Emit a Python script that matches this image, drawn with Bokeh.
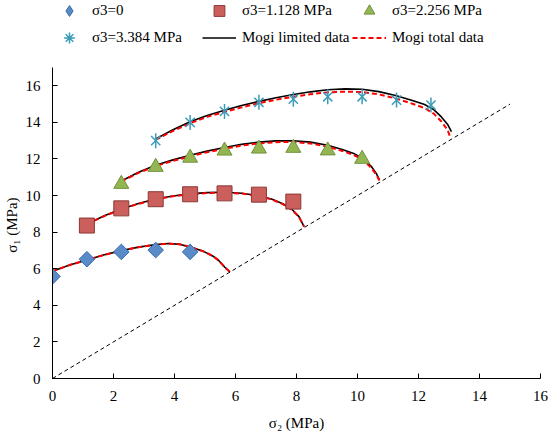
import numpy as np
from bokeh.plotting import figure
from bokeh.models import Range1d, FixedTicker, Legend, LegendItem
from bokeh.embed import file_html
from bokeh.resources import INLINE

# ---- measured points (sigma2, sigma1) in MPa ----
s2_pts_0 = [0.0, 1.128, 2.256, 3.384, 4.512]
s1_pts_0 = [5.58, 6.52, 6.92, 7.02, 6.92]
s2_pts_1 = [1.128, 2.256, 3.384, 4.512, 5.64, 6.768, 7.896]
s1_pts_1 = [8.36, 9.30, 9.80, 10.07, 10.12, 10.05, 9.67]
s2_pts_2 = [2.256, 3.384, 4.512, 5.64, 6.768, 7.896, 9.024, 10.152]
s1_pts_2 = [10.63, 11.56, 12.06, 12.45, 12.56, 12.60, 12.46, 12.00]
s2_pts_3 = [3.384, 4.512, 5.64, 6.768, 7.896, 9.024, 10.152, 11.28, 12.408]
s1_pts_3 = [13.00, 14.00, 14.60, 15.10, 15.27, 15.40, 15.40, 15.22, 14.95]

# ---- Mogi fit, limited data (black) ----
lim_x0 = [0.0, 0.56, 1.13, 1.7, 2.26, 2.82, 3.38, 3.8, 4.2, 4.6, 4.95, 5.25, 5.45, 5.65, 5.82]
lim_y0 = [5.86, 6.2, 6.48, 6.76, 6.99, 7.18, 7.32, 7.38, 7.33, 7.14, 6.95, 6.7, 6.45, 6.08, 5.82]
lim_x1 = [1.13, 1.7, 2.26, 2.82, 3.38, 3.95, 4.51, 5.07, 5.64, 6.2, 6.77, 7.2, 7.55, 7.85, 8.08, 8.25]
lim_y1 = [8.45, 8.9, 9.27, 9.57, 9.81, 9.98, 10.09, 10.16, 10.18, 10.13, 9.99, 9.8, 9.55, 9.25, 8.85, 8.3]
lim_x2 = [2.26, 2.82, 3.38, 3.95, 4.51, 5.07, 5.64, 6.2, 6.77, 7.33, 7.9, 8.46, 9.02, 9.5, 9.9, 10.2, 10.45, 10.62, 10.72]
lim_y2 = [10.8, 11.27, 11.66, 11.95, 12.2, 12.43, 12.63, 12.8, 12.92, 12.99, 13.0, 12.92, 12.75, 12.52, 12.28, 12.0, 11.6, 11.2, 10.85]
lim_x3 = [3.38, 3.95, 4.51, 5.07, 5.64, 6.2, 6.77, 7.33, 7.9, 8.46, 9.02, 9.6, 10.15, 10.7, 11.28, 11.8, 12.2, 12.5, 12.75, 12.95, 13.08]
lim_y3 = [13.09, 13.6, 14.03, 14.38, 14.66, 14.92, 15.15, 15.35, 15.52, 15.67, 15.78, 15.83, 15.81, 15.68, 15.46, 15.2, 14.98, 14.7, 14.3, 13.9, 13.5]

# ---- Mogi fit, total data (red dashed) ----
tot_x0 = [0.0, 0.56, 1.13, 1.7, 2.26, 2.82, 3.38, 3.8, 4.2, 4.6, 4.95, 5.25, 5.45, 5.65, 5.82]
tot_y0 = [5.86, 6.2, 6.48, 6.76, 6.99, 7.18, 7.32, 7.38, 7.33, 7.14, 6.95, 6.7, 6.45, 6.08, 5.82]
tot_x1 = [1.13, 1.7, 2.26, 2.82, 3.38, 3.95, 4.51, 5.07, 5.64, 6.2, 6.77, 7.2, 7.55, 7.85, 8.08, 8.25]
tot_y1 = [8.43, 8.88, 9.25, 9.55, 9.79, 9.96, 10.07, 10.14, 10.16, 10.11, 9.97, 9.78, 9.53, 9.23, 8.83, 8.3]
tot_x2 = [2.26, 2.82, 3.38, 3.95, 4.51, 5.07, 5.64, 6.2, 6.77, 7.33, 7.9, 8.46, 9.02, 9.5, 9.9, 10.2, 10.45, 10.62, 10.72]
tot_y2 = [10.78, 11.24, 11.61, 11.9, 12.14, 12.37, 12.56, 12.73, 12.85, 12.92, 12.93, 12.85, 12.67, 12.44, 12.2, 11.92, 11.52, 11.13, 10.82]
tot_x3 = [3.38, 3.95, 4.51, 5.07, 5.64, 6.2, 6.77, 7.33, 7.9, 8.46, 9.02, 9.6, 10.15, 10.7, 11.28, 11.8, 12.2, 12.5, 12.75, 12.95, 13.05]
tot_y3 = [13.05, 13.53, 13.95, 14.3, 14.57, 14.82, 15.05, 15.24, 15.4, 15.54, 15.64, 15.68, 15.66, 15.53, 15.3, 15.02, 14.78, 14.48, 14.05, 13.6, 13.15]

# ---- sigma1 = sigma2 reference line ----
equal_x = [0, 15]
equal_y = [0, 15]

x_ticks = [0, 2, 4, 6, 8, 10, 12, 14, 16]
y_ticks = [0, 2, 4, 6, 8, 10, 12, 14, 16]
x_axis_max = 16
y_axis_max = 17

FONT = "Liberation Serif"

W, H = 548, 435
LEFT, RIGHT, TOP_AXIS, BOTTOM = 52, 8, 67, 57
frame_h = H - BOTTOM            # frame runs to the top of the canvas (room for the legend)
axis_h = frame_h - TOP_AXIS     # pixel length of the drawn y axis (0..17)
y_view_max = y_axis_max * frame_h / axis_h

p = figure(width=W, height=H, output_backend="svg", toolbar_location=None,
           x_range=Range1d(0, x_axis_max), y_range=Range1d(0, y_view_max),
           min_border_left=LEFT, min_border_right=RIGHT, min_border_top=0,
           min_border_bottom=BOTTOM)
p.outline_line_color = None
p.xgrid.visible = False
p.ygrid.visible = False
p.background_fill_color = "white"

for ax in (p.xaxis, p.yaxis):
    ax.axis_line_color = "black"
    ax.axis_line_width = 1
    ax.major_tick_in = 5
    ax.major_tick_out = 0
    ax.minor_tick_line_color = None
    ax.major_label_text_font = FONT
    ax.major_label_text_font_size = "15px"
    ax.major_label_text_color = "black"
    ax.axis_label_text_font = FONT
    ax.axis_label_text_font_size = "15px"
    ax.axis_label_text_font_style = "normal"
    ax.axis_label_text_color = "black"

p.yaxis.bounds = (0, y_axis_max)
p.xaxis.ticker = FixedTicker(ticks=x_ticks)
p.yaxis.ticker = FixedTicker(ticks=y_ticks)
p.xaxis.axis_label = "σ₂ (MPa)"
# trailing no-break spaces centre the visible label on the drawn 0..17 part of the axis
p.yaxis.axis_label = "σ₁ (MPa)" + "\u00a0" * 19
p.xaxis.major_label_standoff = 12
p.xaxis.axis_label_standoff = 11
p.yaxis.major_label_standoff = 12
p.yaxis.axis_label_standoff = 3

p.line(equal_x, equal_y, line_color="black", line_width=1, line_dash="4 3")

lim_r = []
for xs, ys in [(lim_x0, lim_y0), (lim_x1, lim_y1), (lim_x2, lim_y2), (lim_x3, lim_y3)]:
    lim_r.append(p.line(xs, ys, line_color="black", line_width=1.6))
tot_r = []
for xs, ys in [(tot_x0, tot_y0), (tot_x1, tot_y1), (tot_x2, tot_y2), (tot_x3, tot_y3)]:
    tot_r.append(p.line(xs, ys, line_color="#FF0000", line_width=2, line_dash="5 3"))

# markers
r0 = p.scatter(s2_pts_0, s1_pts_0, marker="square", angle=np.pi / 4, size=11,
               fill_color="#5A8BC9", line_color="#3B6AA6", line_width=1)
r0_leg = p.scatter(s2_pts_0, s1_pts_0, marker="diamond", size=14,
                   fill_color="#5A8BC9", line_color="#3B6AA6", line_width=1, visible=False)
r1 = p.scatter(s2_pts_1, s1_pts_1, marker="square", size=15,
               fill_color="#CB5F5C", line_color="#8C3836", line_width=1)
r2 = p.scatter(s2_pts_2, s1_pts_2, marker="triangle", size=15,
               fill_color="#94B652", line_color="#71913A", line_width=1)
r3a = p.scatter(s2_pts_3, s1_pts_3, marker="x", size=13, line_color="#3B9BB8", line_width=1.5)
r3b = p.scatter(s2_pts_3, s1_pts_3, marker="dash", angle=np.pi / 2, size=15,
                line_color="#3B9BB8", line_width=1.5)
r3_leg = p.scatter(s2_pts_3, s1_pts_3, marker="asterisk", size=14, line_color="#3B9BB8",
                   line_width=1.5, visible=False)

legend = Legend(items=[
    LegendItem(label="σ3=0", renderers=[r0_leg]),
    LegendItem(label="σ3=1.128 MPa", renderers=[r1]),
    LegendItem(label="σ3=2.256 MPa", renderers=[r2]),
    LegendItem(label="σ3=3.384 MPa", renderers=[r3_leg]),
    LegendItem(label="Mogi limited data", renderers=[lim_r[0]]),
    LegendItem(label="Mogi total data", renderers=[tot_r[0]]),
], location=(0, frame_h + 3 - 54), orientation="horizontal", ncols=3)
legend.glyph_width = 34
legend.glyph_height = 27
legend.label_height = 27
legend.label_width = 110
legend.label_standoff = 6
legend.spacing = 0
legend.padding = 0
legend.margin = 0
legend.border_line_alpha = 0
legend.background_fill_alpha = 0
legend.label_text_font = FONT
legend.label_text_font_size = "15px"
legend.label_text_color = "black"
p.add_layout(legend)

open("out.html", "w").write(file_html(p, INLINE))
